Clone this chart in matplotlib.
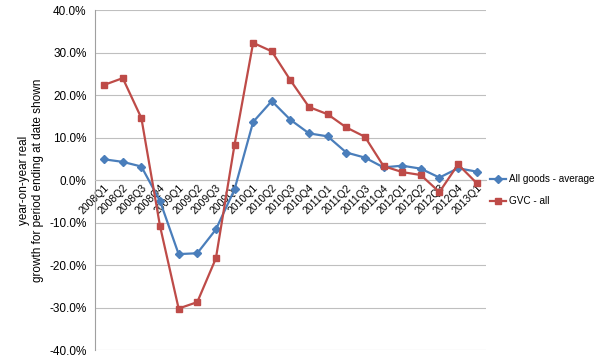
import matplotlib
matplotlib.use("Agg")
import matplotlib.pyplot as plt
from matplotlib.ticker import FuncFormatter

quarters = ["2008Q1", "2008Q2", "2008Q3", "2008Q4",
            "2009Q1", "2009Q2", "2009Q3", "2009Q4",
            "2010Q1", "2010Q2", "2010Q3", "2010Q4",
            "2011Q1", "2011Q2", "2011Q3", "2011Q4",
            "2012Q1", "2012Q2", "2012Q3", "2012Q4", "2013Q1"]
all_goods = [4.9, 4.3, 3.2, -4.9, -17.4, -17.2, -11.6, -2.2, 13.7, 18.6, 14.2,
             11.0, 10.3, 6.5, 5.3, 3.0, 3.4, 2.7, 0.6, 2.8, 2.0]
gvc_all = [22.4, 24.0, 14.6, -10.8, -30.2, -28.7, -18.4, 8.3, 32.3, 30.3, 23.5,
           17.2, 15.5, 12.4, 10.2, 3.3, 1.9, 1.2, -2.8, 3.7, -0.7]

plt.rcParams['font.family'] = ['Liberation Sans', 'DejaVu Sans']

fig = plt.figure(figsize=(6, 3.61), dpi=100)
ax = fig.add_axes([0.158, 0.03, 0.652, 0.942])

x = list(range(len(quarters)))
ax.plot(x, all_goods, color='#4A7EBB', marker='D', markersize=4, lw=1.6,
        label='All goods - average', zorder=3)
ax.plot(x, gvc_all, color='#BE4B48', marker='s', markersize=5, lw=1.6,
        label='GVC - all', zorder=3)

ax.set_xlim(-0.5, len(quarters) - 0.5)
ax.set_ylim(-40, 40)
ax.set_yticks(range(-40, 41, 10))
ax.yaxis.set_major_formatter(FuncFormatter(lambda v, p: f"{v:.1f}%"))
ax.yaxis.grid(True, color='#BFBFBF', lw=0.8)
ax.set_axisbelow(True)

for s in ['top', 'right']:
    ax.spines[s].set_visible(False)
ax.spines['left'].set_color('#A0A0A0')
ax.spines['bottom'].set_position(('data', 0))
ax.spines['bottom'].set_color('#BFBFBF')

ax.set_xticks(x)
ax.set_xticklabels(quarters, rotation=45, ha='right', rotation_mode='anchor',
                   fontsize=7.5)
ax.tick_params(axis='x', length=0, pad=2)
ax.tick_params(axis='y', length=0, labelsize=8.5, pad=6)

ax.set_ylabel("year-on-year real\ngrowth for period ending at date shown",
              fontsize=8.5, labelpad=4)

ax.legend(loc='center left', bbox_to_anchor=(1.0, 0.47), frameon=False,
          fontsize=7.2, handlelength=1.6, handletextpad=0.3, borderpad=0.2,
          borderaxespad=0.2, labelspacing=1.2)

fig.savefig("out.png", dpi=100)
